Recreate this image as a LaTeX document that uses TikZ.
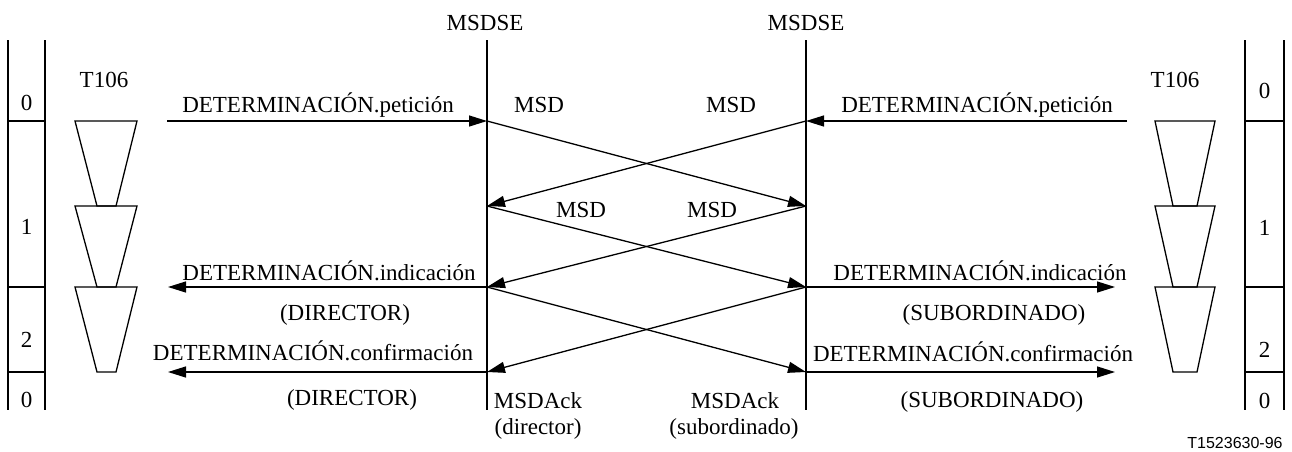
\documentclass[tikz,border=0pt]{standalone}
\usepackage{fontspec}
\setmainfont{Liberation Serif}
\newfontfamily\sansf{Liberation Sans}
\usetikzlibrary{arrows.meta}
\tikzset{
  ln/.style={line width=1.3pt},
  msg/.style={line width=1.3pt,-{Triangle[length=18pt,width=11pt]}},
  lbl/.style={anchor=base,inner sep=0pt,font=\fontsize{23}{27}\selectfont},
  trap/.style={line width=1.3pt,line join=miter}
}
\begin{document}
\begin{tikzpicture}[x=1pt,y=-1pt]
\path[use as bounding box] (0,0) rectangle (1292,451);
% lifelines
\coordinate (LT) at (487,40); \coordinate (LB) at (487,410);
\coordinate (RT) at (806,40); \coordinate (RB) at (806,410);
\draw[ln] (LT) -- (LB);
\draw[ln] (RT) -- (RB);
\coordinate (L0) at (487,121); \coordinate (L1) at (487,206);
\coordinate (L2) at (487,287); \coordinate (L3) at (487,372);
\coordinate (R0) at (806,121); \coordinate (R1) at (806,206);
\coordinate (R2) at (806,287); \coordinate (R3) at (806,372);
% free ends
\coordinate (PL) at (167,121); \coordinate (PR) at (1127,121);
\coordinate (IL) at (168,287); \coordinate (IR) at (1115,287);
\coordinate (CL) at (168,372); \coordinate (CR) at (1115,372);
% titles
\node[lbl] (msdseL) at (485,30) {MSDSE};
\node[lbl] (msdseR) at (806,30) {MSDSE};
\node[lbl] (t106L) at (104,87) {T106};
\node[lbl] (t106R) at (1175,87) {T106};
% state boxes
\draw[ln] (8,40) -- (8,410);
\draw[ln] (45,40) -- (45,410);
\foreach \yy in {121,287,372} \draw[ln] (8,\yy) -- (45,\yy);
\draw[ln] (1245,40) -- (1245,410);
\draw[ln] (1284,40) -- (1284,410);
\foreach \yy in {121,287,372} \draw[ln] (1245,\yy) -- (1284,\yy);
\node[lbl] (bl0) at (26.5,110) {0};
\node[lbl] (bl1) at (26.5,234) {1};
\node[lbl] (bl2) at (26.5,347) {2};
\node[lbl] (bl3) at (26.5,407) {0};
\node[lbl] (br0) at (1264.5,98) {0};
\node[lbl] (br1) at (1264.5,235) {1};
\node[lbl] (br2) at (1264.5,357) {2};
\node[lbl] (br3) at (1264.5,408) {0};
% timers
\foreach \ya/\yb in {121/206,206/287,287/372}{
  \draw[trap] (75,\ya) -- (137,\ya) -- (116,\yb) -- (97,\yb) -- cycle;
  \draw[trap] (1155,\ya) -- (1215,\ya) -- (1197,\yb) -- (1173,\yb) -- cycle;
}
% requests
\draw[msg] (PL) -- (L0);
\draw[msg] (PR) -- (R0);
\node[lbl] (reqL) at (318,112) {DETERMINACIÓN.petición};
\node[lbl] (reqR) at (977,112) {DETERMINACIÓN.petición};
% MSD crossings
\draw[msg] (L0) -- (R1);
\draw[msg] (R0) -- (L1);
\draw[msg] (L1) -- (R2);
\draw[msg] (R1) -- (L2);
\draw[msg] (L2) -- (R3);
\draw[msg] (R2) -- (L3);
\node[lbl] (msd1) at (539,112) {MSD};
\node[lbl] (msd2) at (731,112) {MSD};
\node[lbl] (msd3) at (581,217) {MSD};
\node[lbl] (msd4) at (712,217) {MSD};
% indications
\draw[msg] (L2) -- (IL);
\draw[msg] (R2) -- (IR);
\node[lbl] (indL) at (329,280) {DETERMINACIÓN.indicación};
\node[lbl] (indR) at (980,280) {DETERMINACIÓN.indicación};
\node[lbl] (dirL1) at (345,320) {(DIRECTOR)};
\node[lbl] (subR1) at (994,320) {(SUBORDINADO)};
% confirmations
\draw[msg] (L3) -- (CL);
\draw[msg] (R3) -- (CR);
\node[lbl] (cnfL) at (313,360) {DETERMINACIÓN.confirmación};
\node[lbl] (cnfR) at (973,361) {DETERMINACIÓN.confirmación};
\node[lbl] (dirL2) at (352,405) {(DIRECTOR)};
\node[lbl] (subR2) at (992,407) {(SUBORDINADO)};
% acks
\node[lbl] (ackL) at (538,408) {MSDAck};
\node[lbl] (ackLd) at (538,434) {(director)};
\node[lbl] (ackR) at (735,408) {MSDAck};
\node[lbl] (ackRs) at (734,434) {(subordinado)};
% figure id
\node[anchor=base,inner sep=0pt,font=\sansf\fontsize{16}{19}\selectfont] (fid) at (1235,448) {T1523630-96};
\end{tikzpicture}
\end{document}
